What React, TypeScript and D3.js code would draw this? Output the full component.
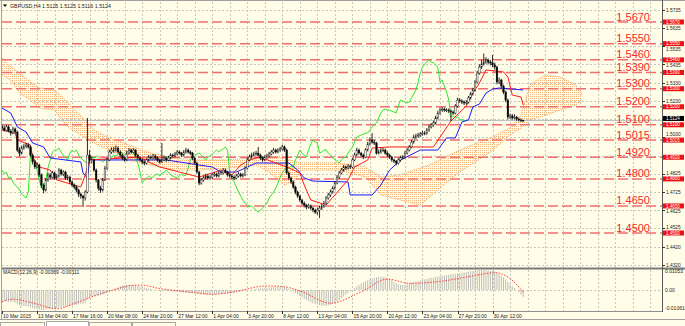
import React from "react";
import * as d3 from "d3";

const W = 685;
const H = 326;

const header = "GBPUSD,H4  1.5125 1.5125 1.5116 1.5124";
const macdHeader = "MACD(12,26,9) -0.00369 -0.00111";
const currentPrice = 1.5124;
const firstOpen = 1.509;

const closes = [
  1.5082,1.5071,1.5088,1.5065,1.5054,1.5077,1.5060,1.4960,1.4943,1.4971,
  1.4982,1.4988,1.4977,1.4932,1.4894,1.4866,1.4877,1.4822,1.4766,1.4738,
  1.4794,1.4822,1.4810,1.4833,1.4805,1.4816,1.4849,1.4827,1.4838,1.4805,
  1.4810,1.4783,1.4766,1.4755,1.4738,1.4716,1.4705,1.4694,1.4727,1.4932,
  1.4905,1.4905,1.4849,1.4794,1.4749,1.4738,1.4794,1.4860,1.4905,1.4949,
  1.4960,1.4960,1.4971,1.4949,1.4932,1.4916,1.4905,1.4943,1.4960,1.4949,
  1.4960,1.4932,1.4916,1.4905,1.4894,1.4888,1.4905,1.4921,1.4916,1.4927,
  1.4916,1.4905,1.4894,1.4905,1.4916,1.4905,1.4916,1.4932,1.4927,1.4938,
  1.4949,1.4943,1.4932,1.4949,1.4960,1.4949,1.4943,1.4916,1.4888,1.4838,
  1.4777,1.4794,1.4805,1.4816,1.4805,1.4810,1.4822,1.4827,1.4816,1.4833,
  1.4833,1.4849,1.4838,1.4822,1.4816,1.4810,1.4805,1.4816,1.4827,1.4816,
  1.4822,1.4860,1.4905,1.4921,1.4932,1.4938,1.4943,1.4932,1.4916,1.4905,
  1.4921,1.4927,1.4938,1.4949,1.4960,1.4949,1.4960,1.4966,1.4977,1.4960,
  1.4833,1.4805,1.4783,1.4755,1.4727,1.4705,1.4683,1.4666,1.4655,1.4644,
  1.4650,1.4638,1.4627,1.4616,1.4627,1.4638,1.4650,1.4666,1.4694,1.4711,
  1.4727,1.4749,1.4777,1.4810,1.4833,1.4849,1.4866,1.4860,1.4871,1.4866,
  1.4905,1.4932,1.4960,1.4943,1.4932,1.4921,1.4960,1.4993,1.5016,1.5004,
  1.4999,1.4943,1.4949,1.4960,1.4960,1.4943,1.4932,1.4921,1.4905,1.4899,
  1.4888,1.4905,1.4916,1.4921,1.4943,1.4960,1.4977,1.5004,1.5032,1.5038,
  1.5043,1.5049,1.5054,1.5054,1.5071,1.5088,1.5099,1.5110,1.5138,1.5165,
  1.5182,1.5187,1.5182,1.5182,1.5176,1.5171,1.5165,1.5204,1.5237,1.5232,
  1.5226,1.5221,1.5226,1.5249,1.5271,1.5293,1.5337,1.5387,1.5420,1.5437,
  1.5448,1.5459,1.5448,1.5443,1.5432,1.5420,1.5337,1.5348,1.5315,1.5282,
  1.5237,1.5143,1.5149,1.5138,1.5143,1.5132,1.5127,1.5125,1.5124,
];

const highs = [
  1.5104,1.5095,1.5100,1.5098,1.5075,1.5090,1.5085,1.5068,1.4975,1.4985,
  1.4995,1.5000,1.4998,1.4985,1.4940,1.4905,1.4890,1.4885,1.4830,1.4775,
  1.4805,1.4835,1.4832,1.4845,1.4840,1.4828,1.4860,1.4856,1.4848,1.4845,
  1.4822,1.4818,1.4792,1.4775,1.4762,1.4745,1.4725,1.4712,1.4738,1.5138,
  1.4960,1.4925,1.4912,1.4858,1.4800,1.4762,1.4805,1.4872,1.4918,1.4962,
  1.4975,1.4978,1.4985,1.4980,1.4958,1.4940,1.4925,1.4955,1.4972,1.4968,
  1.4970,1.4965,1.4940,1.4925,1.4912,1.4900,1.4915,1.4932,1.4930,1.4938,
  1.4935,1.4925,1.4912,1.4999,1.4930,1.4925,1.4928,1.4942,1.4940,1.4950,
  1.4960,1.4958,1.4950,1.4960,1.4972,1.4968,1.4958,1.4950,1.4922,1.4895,
  1.4845,1.4805,1.4815,1.4828,1.4825,1.4820,1.4832,1.4838,1.4835,1.4845,
  1.4845,1.4860,1.4858,1.4845,1.4830,1.4825,1.4820,1.4828,1.4838,1.4835,
  1.4832,1.4870,1.4918,1.4935,1.4945,1.4950,1.4955,1.4977,1.4940,1.4925,
  1.4932,1.4940,1.4950,1.4960,1.4972,1.4968,1.4970,1.4978,1.4990,1.4985,
  1.4968,1.4842,1.4812,1.4790,1.4762,1.4735,1.4712,1.4690,1.4675,1.4662,
  1.4662,1.4658,1.4645,1.4635,1.4640,1.4650,1.4662,1.4678,1.4705,1.4722,
  1.4740,1.4760,1.4788,1.4822,1.4845,1.4860,1.4878,1.4875,1.4882,1.4880,
  1.4915,1.4945,1.4972,1.4968,1.4950,1.4940,1.4970,1.5005,1.5030,1.5054,
  1.5015,1.5005,1.4962,1.4972,1.4972,1.4968,1.4952,1.4940,1.4928,1.4912,
  1.4905,1.4915,1.4928,1.4932,1.4955,1.4972,1.4988,1.5015,1.5045,1.5050,
  1.5055,1.5060,1.5066,1.5065,1.5082,1.5100,1.5110,1.5122,1.5150,1.5178,
  1.5195,1.5198,1.5195,1.5192,1.5190,1.5185,1.5180,1.5215,1.5250,1.5248,
  1.5242,1.5235,1.5238,1.5260,1.5282,1.5305,1.5348,1.5400,1.5435,1.5460,
  1.5495,1.5475,1.5468,1.5460,1.5487,1.5445,1.5428,1.5362,1.5355,1.5322,
  1.5290,1.5245,1.5162,1.5160,1.5158,1.5150,1.5140,1.5135,1.5125,
];

const lows = [
  1.5070,1.5062,1.5064,1.5058,1.5040,1.5048,1.5050,1.4950,1.4925,1.4935,
  1.4962,1.4970,1.4968,1.4922,1.4880,1.4855,1.4858,1.4810,1.4750,1.4720,
  1.4730,1.4785,1.4800,1.4802,1.4795,1.4796,1.4808,1.4818,1.4815,1.4795,
  1.4792,1.4772,1.4755,1.4742,1.4725,1.4700,1.4690,1.4644,1.4680,1.4720,
  1.4890,1.4885,1.4840,1.4780,1.4735,1.4722,1.4730,1.4788,1.4850,1.4898,
  1.4940,1.4945,1.4950,1.4940,1.4920,1.4905,1.4895,1.4898,1.4935,1.4940,
  1.4942,1.4922,1.4905,1.4895,1.4880,1.4875,1.4880,1.4898,1.4908,1.4908,
  1.4905,1.4895,1.4885,1.4888,1.4898,1.4895,1.4898,1.4908,1.4918,1.4920,
  1.4930,1.4935,1.4922,1.4925,1.4940,1.4940,1.4932,1.4905,1.4878,1.4828,
  1.4765,1.4768,1.4785,1.4798,1.4795,1.4795,1.4800,1.4812,1.4808,1.4808,
  1.4822,1.4825,1.4830,1.4812,1.4805,1.4800,1.4795,1.4798,1.4808,1.4808,
  1.4808,1.4815,1.4852,1.4898,1.4912,1.4925,1.4928,1.4925,1.4905,1.4895,
  1.4898,1.4912,1.4918,1.4930,1.4940,1.4940,1.4942,1.4950,1.4958,1.4950,
  1.4825,1.4795,1.4772,1.4745,1.4715,1.4695,1.4672,1.4655,1.4642,1.4632,
  1.4635,1.4628,1.4615,1.4605,1.4600,1.4583,1.4628,1.4640,1.4658,1.4685,
  1.4700,1.4718,1.4740,1.4770,1.4800,1.4825,1.4840,1.4850,1.4852,1.4855,
  1.4858,1.4898,1.4925,1.4935,1.4922,1.4910,1.4915,1.4952,1.4985,1.4995,
  1.4988,1.4935,1.4935,1.4940,1.4948,1.4935,1.4922,1.4910,1.4895,1.4888,
  1.4875,1.4880,1.4895,1.4908,1.4912,1.4935,1.4952,1.4970,1.4995,1.5022,
  1.5028,1.5032,1.5040,1.5042,1.5045,1.5062,1.5080,1.5090,1.5102,1.5130,
  1.5158,1.5172,1.5172,1.5170,1.5165,1.5121,1.5155,1.5158,1.5196,1.5222,
  1.5215,1.5210,1.5212,1.5218,1.5240,1.5262,1.5285,1.5328,1.5378,1.5410,
  1.5428,1.5438,1.5435,1.5430,1.5420,1.5405,1.5325,1.5325,1.5305,1.5270,
  1.5225,1.5130,1.5132,1.5128,1.5130,1.5122,1.5118,1.5115,1.5116,
];

// Ichimoku lines read as [bar, price] vertices
const tenkan: [number, number][] = [
  [0,1.5071],[6,1.5054],[7,1.5016],[13,1.4988],[14,1.4921],[17,1.4866],[22,1.4849],[25,1.4794],
  [36,1.4755],[38,1.4822],[40,1.4905],[63,1.4921],[68,1.4888],[72,1.4866],[90,1.4810],[100,1.4849],
  [105,1.4822],[109,1.4877],[113,1.4905],[118,1.4921],[125,1.4888],[130,1.4866],[136,1.4833],[138,1.4766],
  [141,1.4683],[148,1.4655],[152,1.4711],[158,1.4794],[161,1.4866],[167,1.4905],[169,1.4971],[177,1.4977],
  [186,1.4977],[197,1.4977],[205,1.5121],[212,1.5204],[215,1.5276],[218,1.5332],[221,1.5404],[229,1.5393],
  [231,1.5365],[233,1.5265],[237,1.5254],[238,1.5210],
];

const kijun: [number, number][] = [
  [0,1.5193],[4,1.5165],[7,1.5088],[11,1.5060],[14,1.4999],[19,1.4977],[22,1.4916],[36,1.4894],
  [37,1.4833],[39,1.4805],[40,1.4905],[75,1.4905],[90,1.4877],[96,1.4866],[100,1.4838],[107,1.4838],
  [111,1.4860],[116,1.4888],[131,1.4888],[135,1.4849],[138,1.4805],[142,1.4788],[158,1.4783],[159,1.4711],
  [169,1.4711],[173,1.4766],[177,1.4849],[182,1.4905],[191,1.4960],[199,1.4960],[203,1.5027],[207,1.5027],
  [210,1.5115],[213,1.5127],[215,1.5199],[218,1.5215],[221,1.5276],[224,1.5298],[227,1.5304],[238,1.5293],
];

const spanUpper: [number, number][] = [
  [0,1.5470],[3,1.5432],[8,1.5387],[13,1.5337],[17,1.5304],[24,1.5293],[29,1.5237],[33,1.5182],
  [38,1.5127],[42,1.5071],[49,1.5027],[58,1.4988],[68,1.4943],[77,1.4916],[90,1.4905],[104,1.4905],
  [116,1.4921],[127,1.4921],[136,1.4888],[154,1.4888],[166,1.4866],[173,1.4810],[182,1.4822],[195,1.4877],
  [209,1.4960],[223,1.5027],[232,1.5082],[237,1.5154],[241,1.5321],[248,1.5376],[255,1.5365],[262,1.5321],
  [265,1.5265],
];

const spanLower: [number, number][] = [
  [0,1.5376],[4,1.5348],[8,1.5276],[13,1.5237],[17,1.5193],[24,1.5182],[29,1.5099],[36,1.5043],
  [42,1.4999],[49,1.4960],[58,1.4905],[68,1.4877],[79,1.4849],[90,1.4849],[104,1.4860],[116,1.4877],
  [122,1.4838],[129,1.4766],[134,1.4794],[136,1.4849],[154,1.4849],[166,1.4810],[173,1.4711],[182,1.4683],
  [191,1.4655],[200,1.4749],[209,1.4838],[223,1.4949],[232,1.5043],[237,1.5082],[241,1.5127],[248,1.5154],
  [255,1.5182],[262,1.5210],[265,1.5237],
];

const macdMain = [
  -0.0058,-0.0060,-0.0059,-0.0062,-0.0064,-0.0063,-0.0066,-0.0075,-0.0082,
  -0.0084,-0.0085,-0.0086,-0.0088,-0.0092,-0.0096,-0.0100,-0.0101,-0.0104,
  -0.0106,-0.0106,-0.0103,-0.0101,-0.0100,-0.0098,-0.0098,-0.0096,-0.0094,
  -0.0092,-0.0090,-0.0088,-0.0086,-0.0084,-0.0082,-0.0080,-0.0078,-0.0076,-0.0074,-0.0073,-0.0070,
  -0.0050,
  -0.0038,-0.0035,-0.0032,-0.0030,-0.0030,-0.0028,-0.0025,-0.0020,-0.0014,-0.0008,
  -0.0002,0.0004,0.0010,0.0015,0.0019,0.0022,0.0024,0.0025,0.0026,0.0026,0.0025,0.0023,0.0021,0.0018,
  0.0015,0.0012,0.0009,0.0007,0.0005,0.0003,0.0002,0.0001,0.0000,-0.0002,-0.0004,-0.0005,-0.0006,-0.0008,
  -0.0009,-0.0010,-0.0010,-0.0011,-0.0012,-0.0013,-0.0014,-0.0015,-0.0016,-0.0017,-0.0018,-0.0020,-0.0022,
  -0.0024,-0.0025,-0.0026,-0.0026,-0.0026,-0.0025,-0.0024,-0.0023,-0.0022,-0.0021,-0.0020,-0.0019,-0.0018,-0.0017,
  -0.0015,-0.0013,-0.0011,-0.0009,-0.0007,-0.0006,-0.0004,-0.0002,0.0000,0.0002,0.0004,0.0006,0.0008,0.0009,
  0.0010,0.0011,0.0012,0.0013,0.0014,0.0015,0.0015,0.0016,0.0016,0.0016,0.0015,0.0012,0.0006,0.0000,
  -0.0008,-0.0016,-0.0024,-0.0032,-0.0040,-0.0047,-0.0054,-0.0060,-0.0065,-0.0070,-0.0074,-0.0078,-0.0081,-0.0083,-0.0084,-0.0084,-0.0082,-0.0079,
  -0.0074,-0.0068,-0.0061,-0.0053,-0.0044,-0.0035,-0.0026,-0.0017,-0.0008,0.0001,
  0.0010,0.0018,0.0026,0.0033,0.0040,0.0046,0.0051,0.0056,0.0060,0.0064,0.0066,0.0068,0.0069,0.0068,0.0066,0.0063,
  0.0058,0.0050,0.0042,0.0035,0.0030,0.0027,0.0026,0.0027,0.0030,0.0034,0.0038,
  0.0041,0.0044,0.0047,0.0050,0.0053,0.0056,0.0059,0.0062,0.0064,0.0066,0.0068,0.0070,0.0072,0.0074,0.0076,0.0078,0.0080,0.0082,0.0084,0.0085,0.0087,0.0089,0.0090,
  0.0092,0.0094,0.0096,0.0098,0.0100,0.0102,0.0104,0.0105,0.0105,0.0105,0.0104,0.0103,0.0102,0.0100,0.0097,
  0.0090,0.0082,0.0074,0.0065,0.0055,0.0042,0.0030,0.0019,0.0009,0.0000,-0.0012,-0.0025,-0.0037,
];

const macdSignal: [number, number][] = [
  [0,-0.0063],[5,-0.0049],[14,-0.0069],[25,-0.0099],[34,-0.0067],[43,-0.0028],[51,0.0],[60,0.0025],
  [64,0.0025],[72,0.0007],[81,-0.0005],[90,-0.0017],[96,-0.0023],[104,-0.0014],[121,0.0021],[128,0.0018],
  [136,-0.0005],[150,-0.0070],[164,-0.0010],[176,0.0057],[186,0.0035],[200,0.0045],[214,0.0072],[225,0.0091],
  [232,0.0060],[238,-0.0011],
];

const levels = [1.567, 1.555, 1.546, 1.539, 1.53, 1.52, 1.51, 1.5015, 1.492, 1.48, 1.465, 1.45];
const priceTicks = [1.5735, 1.5635, 1.5535, 1.5435, 1.533, 1.523, 1.513, 1.503, 1.4925, 1.4825, 1.4725, 1.4625, 1.4525, 1.442, 1.432];
const timeLabels = [
  "10 Mar 2015", "13 Mar 04:00", "17 Mar 16:00", "20 Mar 08:00", "24 Mar 20:00", "27 Mar 12:00",
  "1 Apr 04:00", "3 Apr 20:00", "8 Apr 12:00", "13 Apr 04:00", "15 Apr 20:00", "20 Apr 12:00",
  "23 Apr 04:00", "27 Apr 20:00", "30 Apr 12:00",
];
const macdTicks = [0.01053, 0, -0.01061];
const macdTickLabels = ["0.01053", "0.00", "-0.01061"];

const BG = "#fffde8";
const FONT = "'Liberation Sans', Arial, sans-serif";

export default function App() {
  const plotRight = 662;
  const x = d3.scaleLinear().domain([0, 100]).range([2, 221]);
  const y = d3.scaleLinear().domain([1.45, 1.567]).range([233, 22]);
  const ym = d3.scaleLinear().domain([-0.01061, 0.01053]).range([310, 270]);

  const line = d3.line<[number, number]>().x((d) => x(d[0])).y((d) => y(d[1]));
  const sigLine = d3
    .line<[number, number]>()
    .x((d) => x(d[0]))
    .y((d) => ym(d[1]))
    .curve(d3.curveMonotoneX);

  const chikou: [number, number][] = closes
    .map((c, i) => [i - 26, c] as [number, number])
    .filter((d) => d[0] >= 0);

  const cloudPts: [number, number][] = [...spanUpper, ...[...spanLower].reverse()];
  const cloudPath = line(cloudPts) + "Z";

  const vGrid: number[] = [];
  for (let k = 1; x(8 * k) < plotRight; k++) vGrid.push(x(8 * k));

  const BOX_H = 5;
  const curBoxY = y(currentPrice) - 2;
  // boxes drawn on the price axis (levels + current price); grey labels avoid them
  const boxYs = [...levels.map((p) => y(p)), curBoxY];
  const tickLabelY = (p: number): number | null => {
    let ty = y(p);
    for (const by of boxYs) {
      const d = ty - by;
      if (Math.abs(d) < 1.5) return null;
      if (Math.abs(d) < 5.5) ty = by + (d > 0 ? 5.5 : -5.5);
    }
    for (const by of boxYs) if (Math.abs(ty - by) < 5) return null;
    return ty;
  };

  return (
    <svg
      width={W}
      height={H}
      viewBox={`0 0 ${W} ${H}`}
      style={{ position: "fixed", left: 0, top: 0, background: BG }}
      fontFamily={FONT}
    >
      <defs>
        <clipPath id="mainClip">
          <rect x={2} y={1} width={plotRight - 2} height={266} />
        </clipPath>
        <clipPath id="macdClip">
          <rect x={2} y={270} width={plotRight - 2} height={41} />
        </clipPath>
        <pattern id="cloudDots" width={2} height={2} patternUnits="userSpaceOnUse">
          <rect x={0} y={0} width={1} height={1} fill="#f7b57a" />
        </pattern>
      </defs>
      <rect x={0} y={0} width={W} height={H} fill={BG} />

      {/* grids */}
      <g stroke="#c6c6c0" strokeWidth={1} strokeDasharray="2,2" shapeRendering="crispEdges">
        {vGrid.map((gx, i) => (
          <line key={"v" + i} x1={Math.round(gx) + 0.5} x2={Math.round(gx) + 0.5} y1={2} y2={311} />
        ))}
        {priceTicks.map((p, i) => (
          <line key={"h" + i} x1={2} x2={plotRight} y1={Math.round(y(p)) + 0.5} y2={Math.round(y(p)) + 0.5} />
        ))}
        <line x1={2} x2={plotRight} y1={290.5} y2={290.5} />
      </g>

      <g clipPath="url(#mainClip)">
        {/* cloud */}
        <path d={cloudPath} fill="url(#cloudDots)" />
        <path d={line(spanUpper) || ""} fill="none" stroke="#f4a460" strokeWidth={1} strokeDasharray="1,1" />
        <path d={line(spanLower) || ""} fill="none" stroke="#f4a460" strokeWidth={1} strokeDasharray="1,1" />

        {/* level lines */}
        {levels.map((p, i) => (
          <line key={"lv" + i} x1={2} x2={plotRight} y1={y(p)} y2={y(p)} stroke="#f26d6d" strokeWidth={1.5} strokeDasharray="10,4" />
        ))}

        {/* bid line */}
        <line x1={2} x2={plotRight} y1={Math.round(y(currentPrice)) + 0.5} y2={Math.round(y(currentPrice)) + 0.5} stroke="#c0c0c0" strokeWidth={1} />

        {/* chikou, kijun, tenkan */}
        <path d={line(chikou) || ""} fill="none" stroke="#2ee62e" strokeWidth={1} />
        <path d={line(kijun) || ""} fill="none" stroke="#1a1aff" strokeWidth={1} />
        <path d={line(tenkan) || ""} fill="none" stroke="#ff1a1a" strokeWidth={1} />

        {/* candles */}
        {closes.map((c, i) => {
          const o = i === 0 ? firstOpen : closes[i - 1];
          const bull = c >= o;
          const cx = x(i);
          const top = y(Math.max(o, c));
          const bot = y(Math.min(o, c));
          return (
            <g key={"c" + i}>
              <line x1={cx} x2={cx} y1={y(highs[i])} y2={y(lows[i])} stroke="#111" strokeWidth={0.9} />
              <rect
                x={cx - 0.8}
                y={top}
                width={1.6}
                height={Math.max(0.8, bot - top)}
                fill={bull ? "#f4f4f4" : "#000"}
                stroke="#111"
                strokeWidth={0.4}
              />
            </g>
          );
        })}
      </g>

      {/* level text labels */}
      {levels.map((p, i) => (
        <text key={"lt" + i} x={650} y={y(p) - 1.5} textAnchor="end" fontSize={11} fill="#f52a2a">
          {p.toFixed(4)}
        </text>
      ))}

      {/* MACD */}
      <g clipPath="url(#macdClip)">
        {macdMain.map((v, i) => (
          <line key={"m" + i} x1={x(i)} x2={x(i)} y1={ym(0)} y2={ym(v)} stroke="#bdbdb8" strokeWidth={1} />
        ))}
        <path d={sigLine(macdSignal) || ""} fill="none" stroke="#ff3b3b" strokeWidth={1} strokeDasharray="1.5,1.5" />
      </g>
      <text x={3} y={274} fontSize={5} fill="#222">{macdHeader}</text>

      {/* frames */}
      <line x1={1.5} x2={1.5} y1={0} y2={320} stroke="#a0a0a0" />
      <line x1={0} x2={W} y1={0.5} y2={0.5} stroke="#a0a0a0" />
      <line x1={2} x2={W} y1={268.5} y2={268.5} stroke="#7a7a7a" strokeWidth={2} />
      <line x1={2} x2={plotRight} y1={311.5} y2={311.5} stroke="#909090" />
      <line x1={plotRight + 0.5} x2={plotRight + 0.5} y1={0} y2={312} stroke="#5a5a5a" />
      <line x1={0} x2={W} y1={319.5} y2={319.5} stroke="#a0a0a0" />

      {/* price axis */}
      {priceTicks.map((p, i) => {
        const ty = tickLabelY(p);
        return (
          <g key={"pt" + i}>
            <line x1={plotRight} x2={plotRight + 3} y1={Math.round(y(p)) + 0.5} y2={Math.round(y(p)) + 0.5} stroke="#333" />
            {ty !== null && (
              <text x={666} y={ty + 1.7} fontSize={4.8} fill="#222">{p.toFixed(4)}</text>
            )}
          </g>
        );
      })}
      {levels.map((p, i) => (
        <g key={"lb" + i}>
          <rect x={663} y={y(p) - BOX_H / 2} width={21} height={BOX_H} fill="#ee1111" />
          <text x={666} y={y(p) + 1.6} fontSize={4.5} fill="#fff">{p.toFixed(4)}</text>
        </g>
      ))}
      <rect x={663} y={curBoxY - BOX_H / 2} width={21} height={BOX_H} fill="#000" />
      <text x={666} y={curBoxY + 1.6} fontSize={4.5} fill="#fff">{currentPrice.toFixed(4)}</text>

      {/* macd axis */}
      {macdTicks.map((v, i) => (
        <text key={"mt" + i} x={665} y={ym(v) + (i === 0 ? 3 : i === 2 ? 0 : 1.8)} fontSize={5} fill="#222">
          {macdTickLabels[i]}
        </text>
      ))}

      {/* time axis */}
      {timeLabels.map((t, k) => {
        const tx = x(16 * k);
        return (
          <g key={"tl" + k}>
            <line x1={Math.round(tx) + 0.5} x2={Math.round(tx) + 0.5} y1={311} y2={314} stroke="#333" />
            <text x={tx + 1} y={318} fontSize={5} fill="#222">{t}</text>
          </g>
        );
      })}

      {/* header */}
      <path d="M3,4.5 L7,4.5 L5,7 Z" fill="#000" />
      <text x={10} y={8} fontSize={5.3} fill="#222">{header}</text>

      {/* tabs */}
      <g fill="none" stroke="#a8a8a8" strokeWidth={1}>
        <rect x={0.5} y={322.5} width={44} height={5} />
        <rect x={46.5} y={321.5} width={42} height={6} fill="#fff" />
        <rect x={89.5} y={322.5} width={42} height={5} />
        <rect x={132.5} y={322.5} width={43} height={5} />
      </g>
    </svg>
  );
}
